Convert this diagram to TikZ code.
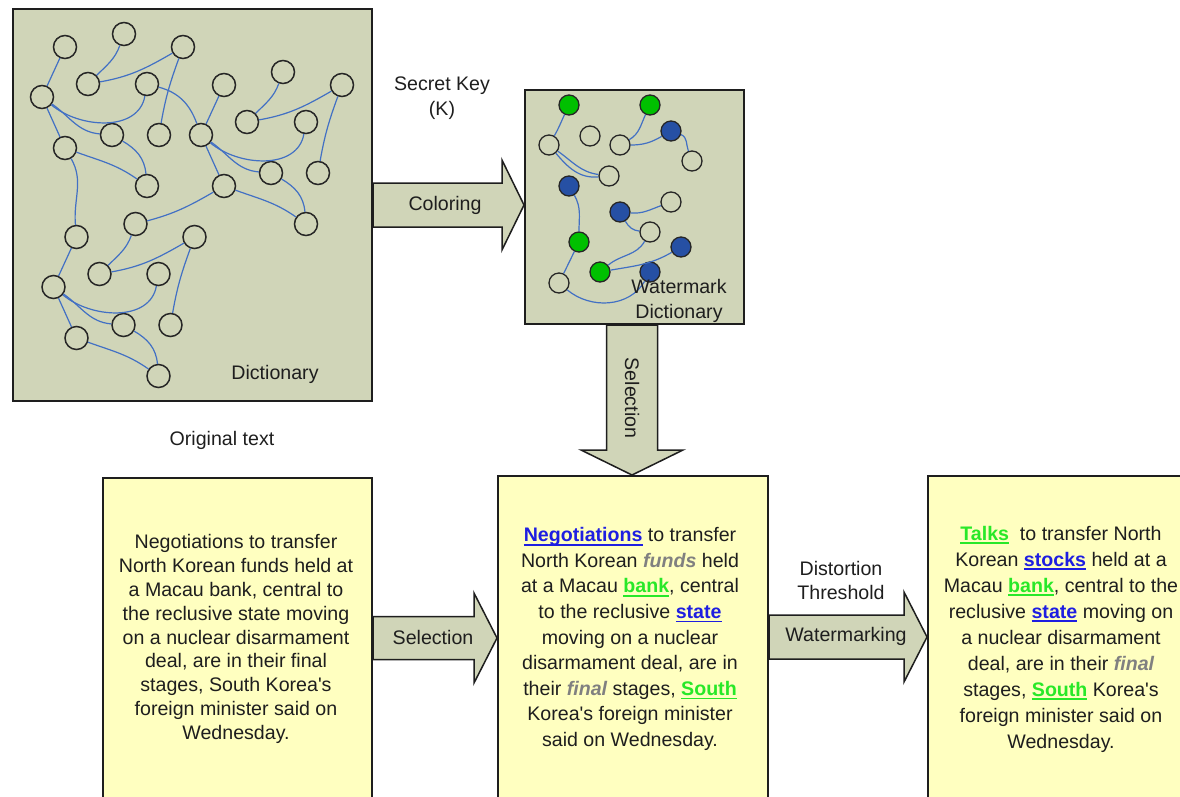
\documentclass[tikz,border=0pt]{standalone}
\usepackage{fontspec}
\setmainfont{Liberation Sans}
\newfontfamily\rawfont{Liberation Sans}[Ligatures=ResetAll]
\usetikzlibrary{calc}

\definecolor{dictfill}{RGB}{208,213,184}
\definecolor{notefill}{RGB}{255,255,192}
\definecolor{edgeblue}{RGB}{66,112,196}
\definecolor{dotgreen}{RGB}{0,192,0}
\definecolor{dotblue}{RGB}{38,80,164}
\definecolor{wblue}{RGB}{30,30,225}
\definecolor{wgreen}{RGB}{40,232,40}
\definecolor{wgray}{RGB}{128,128,128}
\definecolor{ink}{RGB}{30,30,30}

% underline at a fixed depth below the baseline
\newsavebox{\ulbox}
\newcommand{\ulword}[1]{\sbox{\ulbox}{#1}\leavevmode\rlap{\rule[-4pt]{\wd\ulbox}{1.6pt}}\usebox{\ulbox}}
% highlighted words in the watermarked texts
\newcommand{\mkblue}[1]{{\bfseries\color{wblue}\ulword{#1}}}
\newcommand{\mkgreen}[1]{{\bfseries\color{wgreen}\ulword{#1}}}
\newcommand{\mkgray}[1]{\textbf{\itshape\color{wgray}#1}}
% straight apostrophe, set without the TeX quote mapping
\newcommand{\apos}{{\rawfont'}}

% horizontal block arrow: start, tip, half shaft, half head, head length
\newcommand{\harrow}[5]{%
  \draw[blockarrow] ($(#1)+(0,#3)$) -- ($(#2)+(-#5,#3)$) -- ($(#2)+(-#5,#4)$)
    -- (#2) -- ($(#2)+(-#5,-#4)$) -- ($(#2)+(-#5,-#3)$) -- ($(#1)+(0,-#3)$) -- cycle;}
% downward block arrow: start, tip, half shaft, half head, head length
\newcommand{\varrow}[5]{%
  \draw[blockarrow] ($(#1)+(-#3,0)$) -- ($(#2)+(-#3,#5)$) -- ($(#2)+(-#4,#5)$)
    -- (#2) -- ($(#2)+(#4,#5)$) -- ($(#2)+(#3,#5)$) -- ($(#1)+(#3,0)$) -- cycle;}

\begin{document}
\begin{tikzpicture}[x=1pt,y=1pt,
  font=\fontsize{19.6}{24}\selectfont, text=ink,
  panel/.style={draw=ink, line width=2pt, fill=dictfill, inner sep=0pt, anchor=north west},
  note/.style={draw=ink, line width=2pt, fill=notefill, inner sep=0pt, anchor=north west},
  vtx/.style={circle, draw=black!85, line width=1.5pt, minimum size=23pt, inner sep=0pt, fill=dictfill},
  wvtx/.style={circle, draw=black!85, line width=1.3pt, minimum size=20pt, inner sep=0pt, fill=dictfill},
  gvtx/.style={wvtx, fill=dotgreen},
  bvtx/.style={wvtx, fill=dotblue},
  lnk/.style={draw=edgeblue, line width=1.2pt},
  blockarrow/.style={draw=ink, line width=1.5pt, fill=dictfill, line join=miter},
  lbl/.style={align=center, inner sep=0pt},
  txt/.style={align=center, inner sep=0pt}
]
\useasboundingbox (0,0) rectangle (1180,-796);
\clip (0,0) rectangle (1180,-796);

% ---------- panels ----------
\node[panel, minimum width=359pt, minimum height=392pt] (dict) at (12,-8) {};
\node[panel, minimum width=219pt, minimum height=234pt] (wmd) at (524,-89) {};
\node[note, minimum width=269pt, minimum height=350pt] (noteL) at (102,-477) {};
\node[note, minimum width=270pt, minimum height=350pt] (noteM) at (497,-475) {};
\node[note, minimum width=270pt, minimum height=350pt] (noteR) at (927,-475) {};

% ---------- dictionary graph: three copies of one tree ----------
\foreach \cl/\dx/\dy in {A/0/0, B/159/-38, C/11.5/-190}{
  \begin{scope}[shift={(\dx,\dy)}]
    \node[vtx] (\cl1) at (65,-47) {};
    \node[vtx] (\cl2) at (124,-34) {};
    \node[vtx] (\cl3) at (183,-47) {};
    \node[vtx] (\cl4) at (88,-84) {};
    \node[vtx] (\cl5) at (147,-84) {};
    \node[vtx] (\cl6) at (42,-97) {};
    \node[vtx] (\cl7) at (112,-135) {};
    \node[vtx] (\cl8) at (159,-135) {};
    \node[vtx] (\cl9) at (65,-148) {};
    \node[vtx] (\cl10) at (147,-186) {};
    \draw[lnk] (\cl6) -- (\cl1);
    \draw[lnk] (\cl2) to[out=-110,in=45] (\cl4);
    \draw[lnk] (\cl3) to[out=-150,in=10] (\cl4);
    \draw[lnk] (\cl6) to[out=-40,in=-100] (\cl5);
    \draw[lnk] (\cl6) to[out=-35,in=175] (\cl7);
    \draw[lnk] (\cl6) -- (\cl9);
    \draw[lnk] (\cl3) to[out=-110,in=80] (\cl8);
    \draw[lnk] (\cl7) to[out=-30,in=95] (\cl10);
    \draw[lnk] (\cl9) to[out=-20,in=145] (\cl10);
  \end{scope}
}
\draw[lnk] (A5) to[out=-15,in=110] (B6);
\draw[lnk] (A9) to[out=-60,in=95] (C1);
\draw[lnk] (B9) to[out=-150,in=15] (C2);

\node[lbl] (dictlbl) at (275,-374) {Dictionary};

% ---------- watermark dictionary ----------
\node[gvtx] (gA) at (569,-105) {};
\node[gvtx] (gB) at (650,-105) {};
\node[wvtx] (w1) at (549,-145) {};
\node[wvtx] (w2) at (590,-136) {};
\node[wvtx] (w3) at (620,-145) {};
\node[bvtx] (bA) at (671,-131) {};
\node[wvtx] (w4) at (692,-161) {};
\node[wvtx] (w5) at (609,-176) {};
\node[bvtx] (bB) at (569,-186) {};
\node[bvtx] (bC) at (620,-212) {};
\node[wvtx] (w6) at (671,-202) {};
\node[wvtx] (w7) at (650,-232) {};
\node[gvtx] (gC) at (579,-242) {};
\node[bvtx] (bD) at (681,-247) {};
\node[gvtx] (gD) at (600,-272) {};
\node[bvtx] (bE) at (650,-272) {};
\node[wvtx] (w8) at (559,-283) {};

\draw[lnk] (gA) to[out=-115,in=60] (w1);
\draw[lnk] (w1) to[out=-35,in=172] (w5);
\draw[lnk] (w1) to[out=-50,in=185] (w5);
\draw[lnk] (gB) to[out=-115,in=30] (w3);
\draw[lnk] (w3) to[out=0,in=-150] (bA);
\draw[lnk] (bA) to[out=-20,in=110] (w4);
\draw[lnk] (bB) to[out=-60,in=90] (gC);
\draw[lnk] (bC) to[out=-5,in=-160] (w6);
\draw[lnk] (bC) to[out=-60,in=175] (w7);
\draw[lnk] (w7) to[out=-120,in=40] (gD);
\draw[lnk] (gD) to[out=10,in=-150] (bD);
\draw[lnk] (gC) -- (w8);
\draw[lnk] (w8) to[out=-40,in=-120] (bE);

\node[lbl, font=\fontsize{19.6}{25}\selectfont] (wmdlbl) at (679,-301) {Watermark\\Dictionary};

% ---------- block arrows ----------
\coordinate (colS) at (dict.east |- 0,-205);
\coordinate (colT) at (wmd.west |- 0,-205);
\harrow{colS}{colT}{22}{45}{22}
\coordinate (selvS) at (wmd.south -| 632,0);
\coordinate (selvT) at (noteM.north -| 632,0);
\varrow{selvS}{selvT}{25.5}{51}{25}
\coordinate (selS) at (noteL.east |- 0,-638);
\coordinate (selT) at (noteM.west |- 0,-638);
\harrow{selS}{selT}{21.5}{45}{23}
\coordinate (wmS) at (noteM.east |- 0,-637);
\coordinate (wmT) at (noteR.west |- 0,-637);
\harrow{wmS}{wmT}{22}{45}{23}

% ---------- arrow and panel labels ----------
\node[lbl, font=\fontsize{19.6}{25}\selectfont] (key) at (442,-98) {Secret Key\\(K)};
\node[lbl] (collbl) at (445,-205) {Coloring};
\node[lbl, rotate=-90] (selvlbl) at (632,-398) {Selection};
\node[lbl] (origlbl) at (222,-440) {Original text};
\node[lbl] (sellbl) at (433,-637) {Selection};
\node[lbl] (distlbl) at (841,-580) {Distortion\\Threshold};
\node[lbl] (wmlbl) at (846,-636) {Watermarking};

% ---------- texts ----------
\node[txt, font=\fontsize{19.6}{23.9}\selectfont] (textL) at (236,-639) {%
Negotiations to transfer\\
North Korean funds held at\\
a Macau bank, central to\\
the reclusive state moving\\
on a nuclear disarmament\\
deal, are in their final\\
stages, South Korea\apos s\\
foreign minister said on\\
Wednesday.};

\node[txt, font=\fontsize{19.6}{25.6}\selectfont] (textM) at (630,-639) {%
\mkblue{Negotiations} to transfer\\
North Korean \mkgray{funds} held\\
at a Macau \mkgreen{bank}, central\\
to the reclusive \mkblue{state}\\
moving on a nuclear\\
disarmament deal, are in\\
their \mkgray{final} stages, \mkgreen{South}\\
Korea\apos s foreign minister\\
said on Wednesday.};

\node[txt, font=\fontsize{19.6}{26}\selectfont] (textR) at (1061,-639) {%
\mkgreen{Talks}\ \ to transfer North\\
Korean \mkblue{stocks} held at a\\
Macau \mkgreen{bank}, central to the\\
reclusive \mkblue{state} moving on\\
a nuclear disarmament\\
deal, are in their \mkgray{final}\\
stages, \mkgreen{South} Korea\apos s\\
foreign minister said on\\
Wednesday.};
\end{tikzpicture}
\end{document}
